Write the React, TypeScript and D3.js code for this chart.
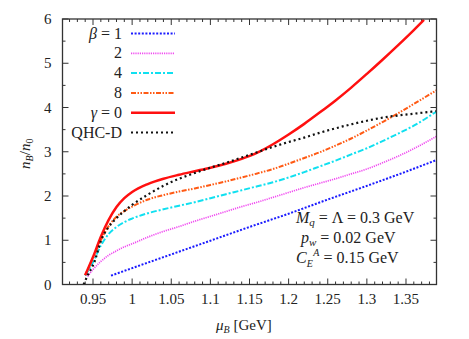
import React, { useEffect, useRef } from 'react';
import * as d3 from 'd3';

// mu_B [GeV] / n_B/n_0
const BETA1_MU = [0.973, 1.0, 1.05, 1.1, 1.15, 1.2, 1.25, 1.3, 1.35, 1.39];
const BETA1_N = [0.2, 0.37, 0.68, 0.99, 1.3, 1.6, 1.92, 2.23, 2.55, 2.82];

const BETA2_MU = [0.943, 0.95, 0.96, 0.97, 0.98, 0.99, 1.0, 1.02, 1.04, 1.06, 1.08, 1.1, 1.12, 1.14, 1.16, 1.18, 1.2, 1.22, 1.24, 1.26, 1.28, 1.3, 1.32, 1.34, 1.36, 1.39];
const BETA2_N = [0.18, 0.34, 0.52, 0.66, 0.76, 0.85, 0.92, 1.07, 1.2, 1.31, 1.43, 1.54, 1.65, 1.76, 1.86, 1.97, 2.08, 2.19, 2.29, 2.39, 2.5, 2.61, 2.75, 2.9, 3.07, 3.36];

const BETA4_MU = [0.94, 0.95, 0.96, 0.97, 0.98, 0.99, 1.0, 1.02, 1.04, 1.06, 1.08, 1.1, 1.12, 1.14, 1.16, 1.18, 1.2, 1.22, 1.24, 1.26, 1.28, 1.3, 1.32, 1.34, 1.36, 1.39];
const BETA4_N = [0.2, 0.5, 0.88, 1.14, 1.3, 1.41, 1.49, 1.61, 1.7, 1.78, 1.86, 1.95, 2.04, 2.13, 2.22, 2.31, 2.42, 2.54, 2.67, 2.8, 2.94, 3.08, 3.24, 3.41, 3.59, 3.92];

const BETA8_MU = [0.94, 0.95, 0.96, 0.97, 0.98, 0.99, 1.0, 1.02, 1.04, 1.06, 1.08, 1.1, 1.12, 1.14, 1.16, 1.18, 1.2, 1.22, 1.24, 1.26, 1.28, 1.3, 1.32, 1.34, 1.36, 1.39];
const BETA8_N = [0.21, 0.6, 1.0, 1.32, 1.53, 1.66, 1.76, 1.92, 2.02, 2.1, 2.17, 2.25, 2.33, 2.42, 2.51, 2.61, 2.73, 2.86, 2.99, 3.14, 3.3, 3.48, 3.67, 3.87, 4.08, 4.4];

const GAMMA0_MU = [0.94, 0.95, 0.96, 0.97, 0.98, 0.99, 1.0, 1.02, 1.04, 1.06, 1.08, 1.1, 1.12, 1.14, 1.16, 1.18, 1.2, 1.22, 1.24, 1.26, 1.28, 1.3, 1.32, 1.34, 1.36, 1.373];
const GAMMA0_N = [0.21, 0.62, 1.08, 1.46, 1.75, 1.95, 2.09, 2.27, 2.39, 2.48, 2.56, 2.64, 2.73, 2.84, 2.98, 3.17, 3.39, 3.63, 3.89, 4.16, 4.45, 4.76, 5.08, 5.41, 5.75, 5.98];

const QHCD_MU = [0.938, 0.943, 0.952, 0.96, 0.97, 0.98, 0.99, 1.0, 1.02, 1.04, 1.06, 1.08, 1.1, 1.12, 1.14, 1.16, 1.18, 1.2, 1.22, 1.24, 1.26, 1.28, 1.3, 1.32, 1.34, 1.36, 1.39];
const QHCD_N = [0.0, 0.2, 0.52, 0.98, 1.3, 1.5, 1.66, 1.8, 2.03, 2.23, 2.39, 2.52, 2.64, 2.75, 2.87, 2.99, 3.11, 3.22, 3.32, 3.43, 3.53, 3.62, 3.7, 3.77, 3.82, 3.86, 3.92];

const X_TICKS = [0.95, 1, 1.05, 1.1, 1.15, 1.2, 1.25, 1.3, 1.35];
const X_TICK_LABELS = ['0.95', '1', '1.05', '1.1', '1.15', '1.2', '1.25', '1.3', '1.35'];
const Y_TICKS = [0, 1, 2, 3, 4, 5, 6];

const SERIES = [
  { label: '1', greek: 'β', mu: BETA1_MU, n: BETA1_N, color: '#1c1cff', width: 2, dash: '2,1.6' },
  { label: '2', greek: '', mu: BETA2_MU, n: BETA2_N, color: '#f04cf0', width: 1.7, dash: '1.2,1' },
  { label: '4', greek: '', mu: BETA4_MU, n: BETA4_N, color: '#10e0f0', width: 2, dash: '6,2,2,2' },
  { label: '8', greek: '', mu: BETA8_MU, n: BETA8_N, color: '#ff5a14', width: 2, dash: '5,1.5,1.5,1.5,1.5,1.5' },
  { label: '0', greek: 'γ', mu: GAMMA0_MU, n: GAMMA0_N, color: '#ff1010', width: 2.5, dash: null },
  { label: 'QHC-D', greek: '', mu: QHCD_MU, n: QHCD_N, color: '#111111', width: 2.2, dash: '2,3' },
];

const FONT = "'Times New Roman', 'Liberation Serif', 'DejaVu Serif', serif";

export default function App() {
  const svgRef = useRef<SVGSVGElement>(null);
  const width = 469;
  const height = 339;

  useEffect(() => {
    if (!svgRef.current) return;
    const svg = d3.select(svgRef.current);
    svg.selectAll('*').remove();

    const left = 62.5, right = 436.5, top = 19, bottom = 284.5;

    const x = d3.scaleLinear().domain([0.911, 1.389]).range([left, right]);
    const y = d3.scaleLinear().domain([0, 6]).range([bottom, top]);

    const clipId = 'plot-clip';
    svg.append('defs').append('clipPath').attr('id', clipId)
      .append('rect')
      .attr('x', left).attr('y', top)
      .attr('width', right - left).attr('height', bottom - top);

    const axisColor = '#333333';

    // ticks on all four sides
    const minorX = d3.range(92, 139).map((d) => d / 100).filter((d) => Math.round(d * 100) % 5 !== 0);
    const minorY = d3.range(0.5, 6, 1);
    const ticks = svg.append('g').attr('stroke', axisColor).attr('stroke-width', 1);
    X_TICKS.forEach((v) => {
      ticks.append('line').attr('x1', x(v)).attr('x2', x(v)).attr('y1', bottom).attr('y2', bottom - 6);
      ticks.append('line').attr('x1', x(v)).attr('x2', x(v)).attr('y1', top).attr('y2', top + 6);
    });
    minorX.forEach((v) => {
      ticks.append('line').attr('x1', x(v)).attr('x2', x(v)).attr('y1', bottom).attr('y2', bottom - 3);
      ticks.append('line').attr('x1', x(v)).attr('x2', x(v)).attr('y1', top).attr('y2', top + 3);
    });
    Y_TICKS.forEach((v) => {
      ticks.append('line').attr('y1', y(v)).attr('y2', y(v)).attr('x1', left).attr('x2', left + 6);
      ticks.append('line').attr('y1', y(v)).attr('y2', y(v)).attr('x1', right).attr('x2', right - 6);
    });
    minorY.forEach((v) => {
      ticks.append('line').attr('y1', y(v)).attr('y2', y(v)).attr('x1', left).attr('x2', left + 3);
      ticks.append('line').attr('y1', y(v)).attr('y2', y(v)).attr('x1', right).attr('x2', right - 3);
    });

    // tick labels
    X_TICKS.forEach((v, i) => {
      svg.append('text')
        .attr('x', x(v)).attr('y', bottom + 19)
        .attr('text-anchor', 'middle')
        .style('font-family', FONT).attr('font-size', 15).attr('fill', '#222')
        .text(X_TICK_LABELS[i]);
    });
    Y_TICKS.forEach((v) => {
      svg.append('text')
        .attr('x', left - 11).attr('y', y(v) + 5)
        .attr('text-anchor', 'end')
        .style('font-family', FONT).attr('font-size', 15).attr('fill', '#222')
        .text(String(v));
    });

    // axis titles
    const xt = svg.append('text')
      .attr('x', 216).attr('y', 330)
      .style('font-family', FONT).attr('font-size', 15).attr('fill', '#222');
    xt.append('tspan').attr('font-style', 'italic').text('μ');
    xt.append('tspan').attr('font-style', 'italic').attr('font-size', 10).attr('dy', 3).text('B');
    xt.append('tspan').attr('dy', -3).text(' [GeV]');

    const yt = svg.append('text')
      .attr('transform', `translate(30, ${(top + bottom) / 2 + 2}) rotate(-90)`)
      .attr('text-anchor', 'middle')
      .style('font-family', FONT).attr('font-size', 15).attr('fill', '#222');
    yt.append('tspan').attr('font-style', 'italic').text('n');
    yt.append('tspan').attr('font-style', 'italic').attr('font-size', 10).attr('dy', 3).text('B');
    yt.append('tspan').attr('dy', -3).text('/');
    yt.append('tspan').attr('font-style', 'italic').text('n');
    yt.append('tspan').attr('font-size', 10).attr('dy', 3).text('0');

    // curves
    const line = d3.line<[number, number]>()
      .x((d) => x(d[0]))
      .y((d) => y(d[1]))
      .curve(d3.curveMonotoneX);

    const plot = svg.append('g').attr('clip-path', `url(#${clipId})`);
    SERIES.forEach((s) => {
      const data: [number, number][] = s.mu.map((m, i) => [m, s.n[i]]);
      const p = plot.append('path')
        .attr('d', line(data))
        .attr('fill', 'none')
        .attr('stroke', s.color)
        .attr('stroke-width', s.width);
      if (s.dash) p.attr('stroke-dasharray', s.dash);
    });

    // legend
    const legX = 122, legY0 = 33.5, legStep = 19.8;
    SERIES.forEach((s, i) => {
      const ly = legY0 + i * legStep;
      const t = svg.append('text')
        .attr('x', legX).attr('y', ly + 5)
        .attr('text-anchor', 'end')
        .style('font-family', FONT).attr('font-size', 16).attr('fill', '#222');
      if (s.greek) {
        t.append('tspan').attr('font-style', 'italic').text(s.greek);
        t.append('tspan').text(' = ' + s.label);
      } else {
        t.text(s.label);
      }
      const l = svg.append('line')
        .attr('x1', 131).attr('x2', 175)
        .attr('y1', ly).attr('y2', ly)
        .attr('stroke', s.color)
        .attr('stroke-width', s.width);
      if (s.dash) l.attr('stroke-dasharray', s.dash);
    });

    // parameter annotation
    const ann = svg.append('g').style('font-family', FONT).attr('font-size', 16).attr('fill', '#222');
    const a1 = ann.append('text').attr('x', 296).attr('y', 223);
    a1.append('tspan').attr('font-style', 'italic').text('M');
    a1.append('tspan').attr('font-style', 'italic').attr('font-size', 11).attr('dy', 3).text('q');
    a1.append('tspan').attr('dy', -3).text(' = Λ = 0.3 GeV');
    const a2 = ann.append('text').attr('x', 301).attr('y', 243);
    a2.append('tspan').attr('font-style', 'italic').text('p');
    a2.append('tspan').attr('font-style', 'italic').attr('font-size', 11).attr('dy', 3).text('w');
    a2.append('tspan').attr('dy', -3).text(' = 0.02 GeV');
    const a3 = ann.append('text').attr('x', 296).attr('y', 263);
    a3.append('tspan').attr('font-style', 'italic').text('C');
    a3.append('tspan').attr('font-style', 'italic').attr('font-size', 10).attr('dy', 4).text('E');
    a3.append('tspan').attr('font-style', 'italic').attr('font-size', 10).attr('dy', -11).attr('dx', 0.5).text('A');
    a3.append('tspan').attr('dy', 7).text(' = 0.15 GeV');

    // frame
    svg.append('rect')
      .attr('x', left).attr('y', top)
      .attr('width', right - left).attr('height', bottom - top)
      .attr('fill', 'none')
      .attr('stroke', axisColor)
      .attr('stroke-width', 1.3);
  }, []);

  return (
    <svg
      ref={svgRef}
      width={width}
      height={height}
      style={{ position: 'absolute', left: 0, top: 0, background: '#fff' }}
    />
  );
}
